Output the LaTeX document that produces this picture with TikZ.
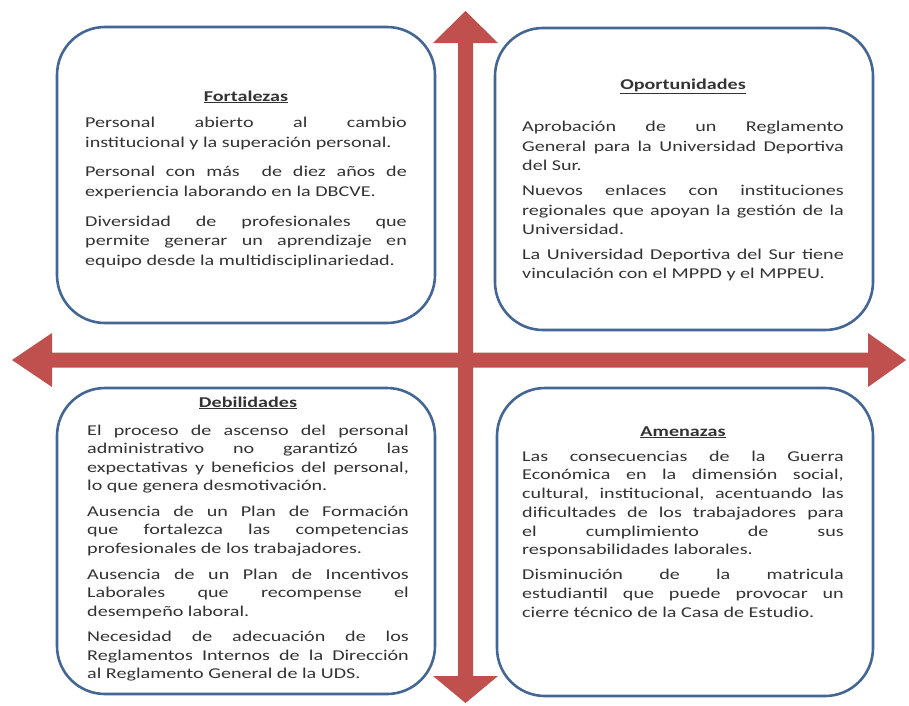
\documentclass[tikz,border=0pt]{standalone}
\usepackage{fontspec}
\setmainfont{Carlito}
\usepackage{graphicx}
\definecolor{arrred}{RGB}{192,80,77}
\definecolor{boxblue}{RGB}{68,102,148}
\newcommand{\jl}[1]{\makebox[\linewidth][s]{#1}\par}
\newcommand{\nl}[1]{\makebox[\linewidth][l]{#1}\par}
\newcommand{\tl}[1]{\makebox[\linewidth][c]{\underline{\textbf{#1}}}\par}
\newcommand{\txtblock}[2]{\scalebox{1.34}[1]{\parbox[t]{240pt}{\setlength{\parindent}{0pt}\setlength{\parskip}{0pt}\fontsize{15}{#1}\selectfont #2}}}
\tikzset{
  swotbox/.style={draw=boxblue, line width=2.6pt, rounded corners=48pt, fill=white, inner sep=0pt},
  swottext/.style={anchor=base west, inner sep=0pt, text=black!80}
}
\begin{document}
\begin{tikzpicture}[x=1pt,y=-1pt]
\useasboundingbox (0,0) rectangle (909,705);
\fill[white] (0,0) rectangle (909,705);
% arrows
\fill[arrred] (12,360) -- (52,333) -- (52,352.5) -- (868,352.5) -- (868,333) -- (906,360)
  -- (868,387) -- (868,367.5) -- (52,367.5) -- (52,387) -- cycle;
\fill[arrred] (465.5,11) -- (498,43) -- (473,43) -- (473,676) -- (498,676) -- (465.5,703)
  -- (433,676) -- (458,676) -- (458,43) -- (433,43) -- cycle;
% boxes
\node[swotbox, minimum width=378pt, minimum height=296pt] (F) at (246,175) {};
\node[swotbox, minimum width=378pt, minimum height=302pt] (O) at (684,179) {};
\node[swotbox, minimum width=378pt, minimum height=306pt] (D) at (246,541) {};
\node[swotbox, minimum width=376pt, minimum height=308pt] (A) at (685,542) {};
% texts
\node[swottext] (Ft) at (85,101) {\txtblock{19.8}{%
\tl{Fortalezas}\vspace{7pt}
\jl{Personal abierto al cambio}
\nl{institucional y la superación personal.}\vspace{9.5pt}
\jl{Personal con más \ de diez años de}
\nl{experiencia laborando en la DBCVE.}\vspace{9.5pt}
\jl{Diversidad de profesionales que}
\jl{permite generar un aprendizaje en}
\nl{equipo desde la multidisciplinariedad.}}};
\node[swottext] (Ot) at (522,89) {\txtblock{19.4}{%
\tl{Oportunidades}\vspace{23.5pt}
\jl{Aprobación de un Reglamento}
\jl{General para la Universidad Deportiva}
\nl{del Sur.}\vspace{5.5pt}
\jl{Nuevos enlaces con instituciones}
\jl{regionales que apoyan la gestión de la}
\nl{Universidad.}\vspace{5.5pt}
\jl{La Universidad Deportiva del Sur tiene}
\nl{vinculación con el MPPD y el MPPEU.}}};
\node[swottext] (Dt) at (87,407) {\txtblock{18.4}{%
\tl{Debilidades}\vspace{10pt}
\jl{El proceso de ascenso del personal}
\jl{administrativo no garantizó las}
\jl{expectativas y beneficios del personal,}
\nl{lo que genera desmotivación.}\vspace{7.5pt}
\jl{Ausencia de un Plan de Formación}
\jl{que fortalezca las competencias}
\nl{profesionales de los trabajadores.}\vspace{7.5pt}
\jl{Ausencia de un Plan de Incentivos}
\jl{Laborales que recompense el}
\nl{desempeño laboral.}\vspace{7.5pt}
\jl{Necesidad de adecuación de los}
\jl{Reglamentos Internos de la Dirección}
\nl{al Reglamento General de la UDS.}}};
\node[swottext] (At) at (522,436) {\txtblock{18.7}{%
\tl{Amenazas}\vspace{6.5pt}
\jl{Las consecuencias de la Guerra}
\jl{Económica en la dimensión social,}
\jl{cultural, institucional, acentuando las}
\jl{dificultades de los trabajadores para}
\jl{el cumplimiento de sus}
\nl{responsabilidades laborales.}\vspace{6.5pt}
\jl{Disminución de la matricula}
\jl{estudiantil que puede provocar un}
\nl{cierre técnico de la Casa de Estudio.}}};
\end{tikzpicture}
\end{document}
